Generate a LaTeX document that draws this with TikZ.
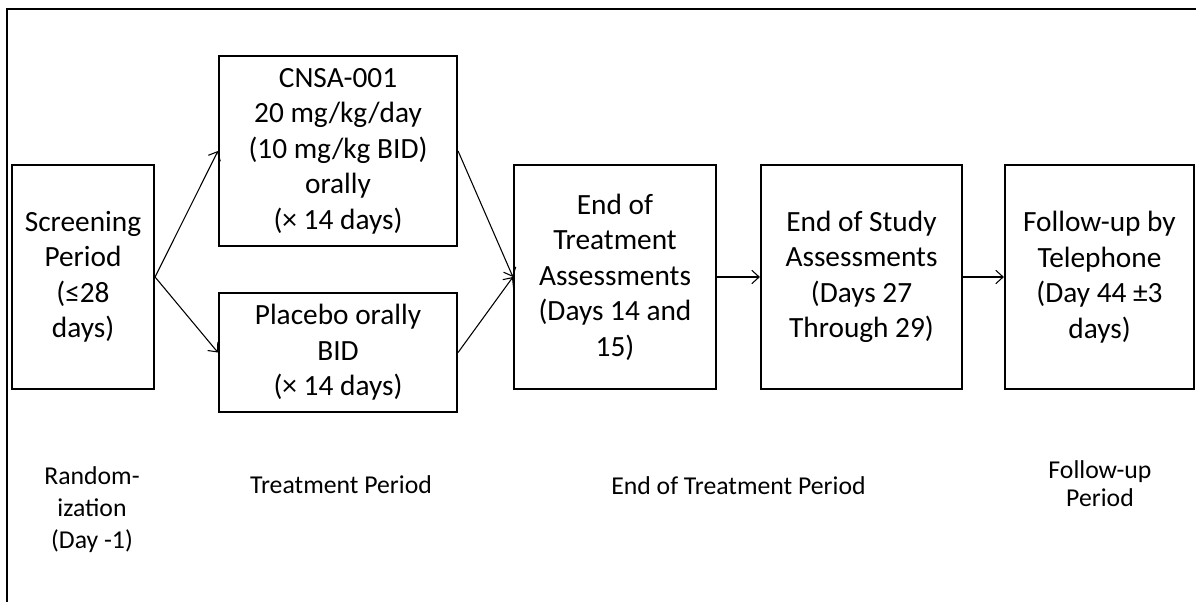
\documentclass[tikz,border=0pt]{standalone}
\usepackage{fontspec}
\setmainfont{Carlito}
\usetikzlibrary{arrows.meta}
\tikzset{
  box/.style={draw=black, line width=1.6pt, inner sep=0pt, align=center,
    font=\fontsize{22}{26.6}\selectfont},
  arr/.style={line width=0.8pt, -{Straight Barb[length=5.5pt,width=10pt,line width=0.8pt]}},
  lbl/.style={inner sep=0pt, align=center, font=\fontsize{19.3}{24}\selectfont},
  frame/.style={line width=1.8pt}
}
\begin{document}
\begin{tikzpicture}[x=0.75pt,y=-0.75pt]
\useasboundingbox (0,0) rectangle (1196,602);
\coordinate (fa) at (7,602);
\coordinate (fb) at (7,9);
\coordinate (fc) at (1196,9);
\draw[frame] (fa) -- (fb) -- (fc);

\node[box, minimum width={142*0.75pt}, minimum height={224*0.75pt}] (scr) at (83,277)
  {Screening\\Period\\(≤28\\days)};
\node[box, minimum width={238*0.75pt}, minimum height={190*0.75pt}] (cnsa) at (338,151)
  {CNSA-001\\20 mg/kg/day\\(10 mg/kg BID)\\orally\\(× 14 days)};
\node[box, minimum width={238*0.75pt}, minimum height={119*0.75pt}] (plac) at (338,352.5)
  {Placebo orally\\BID\\(× 14 days)};
\node[box, minimum width={202*0.75pt}, minimum height={224*0.75pt}] (eot) at (615,277)
  {End of\\Treatment\\Assessments\\(Days 14 and\\15)};
\node[box, minimum width={201*0.75pt}, minimum height={224*0.75pt}] (eos) at (861.5,277)
  {End of Study\\Assessments\\(Days 27\\Through 29)};
\node[box, minimum width={189*0.75pt}, minimum height={224*0.75pt}] (fu) at (1099.5,277)
  {Follow-up by\\Telephone\\(Day 44 ±3\\days)};

\draw[arr] (scr.east) -- (cnsa.west);
\draw[arr] (scr.east) -- (plac.west);
\draw[arr] (cnsa.east) -- (eot.west);
\draw[arr] (plac.east) -- (eot.west);
\draw[arr] (eot.east) -- (eos.west);
\draw[arr] (eos.east) -- (fu.west);

\node[lbl] (l1) at (92,510) {Random-\\ization\\(Day -1)};
\node[lbl, anchor=base] (l2) at (341,493) {Treatment Period};
\node[lbl, anchor=base] (l3) at (738.5,494) {End of Treatment Period};
\node[lbl, font=\fontsize{19.3}{21}\selectfont] (l4) at (1100,484) {Follow-up\\Period};
\end{tikzpicture}
\end{document}
